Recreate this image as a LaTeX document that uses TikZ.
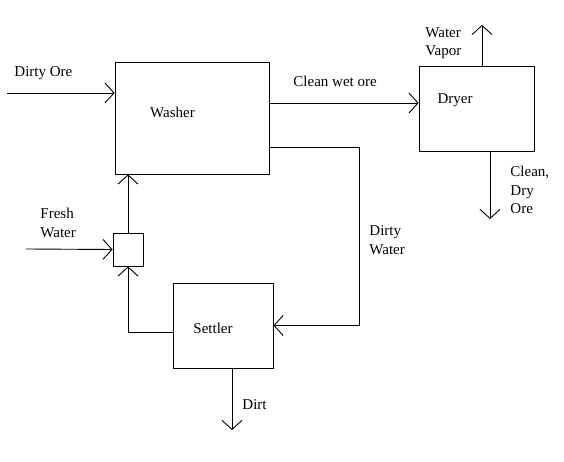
\documentclass[tikz,border=0pt]{standalone}
\usepackage{fontspec}
\setmainfont{Liberation Serif}
\usetikzlibrary{positioning, arrows.meta}

\begin{document}
\begin{tikzpicture}[
          x=1pt, y=-1pt,
          line width=0.9pt,
          unit/.style = {draw, minimum width=#1, inner sep=0pt},
          flow/.style = {-{Straight Barb[length=9pt, width=20pt, line width=0.9pt]}},
          note/.style = {font=\fontsize{15}{18.5}\selectfont, align=left, anchor=west, inner sep=0pt}
         ]
        \useasboundingbox (0,0) rectangle (564,462);

        % Units
        \node[unit=154pt, minimum height=112pt, label={[note, anchor=center, xshift=-19.5pt, yshift=6pt]center:Washer}] (washer) at (192,118) {};
        \node[unit=115pt, minimum height=85pt, label={[note, anchor=center, xshift=-21.5pt, yshift=8.5pt]center:Dryer}] (dryer) at (476.5,108.5) {};
        \node[unit=100pt, minimum height=85pt, label={[note, anchor=center, xshift=-10pt, yshift=-2.5pt]center:Settler}] (settler) at (223,325.5) {};
        \node[unit=30pt, minimum height=33pt] (mixer) at (128,249.5) {};

        % Ends of the streams
        \coordinate (orein) at (7,93);
        \coordinate (waterin) at (26,249);
        \coordinate (vapor) at (482,25);
        \coordinate (product) at (490,219);
        \coordinate (dirt) at (232,430);

        % Labels
        \node[note] (oretxt) at (14,73) {Dirty Ore};
        \node[note] (wettxt) at (293,81) {Clean wet ore};
        \node[note] (vaportxt) at (425,43) {Water\\Vapor};
        \node[note] (producttxt) at (510,190) {Clean,\\Dry\\Ore};
        \node[note] (dirtywtxt) at (369,240) {Dirty\\Water};
        \node[note] (freshtxt) at (40,223) {Fresh\\Water};
        \node[note] (dirttxt) at (242,405) {Dirt};

        % Streams
        \draw[flow] (orein) -- (orein -| washer.west);
        \draw[flow] (washer.east |- 0,103) -- (dryer.west |- 0,103);
        \draw[flow] (dryer.north -| vapor) -- (vapor);
        \draw[flow] (dryer.south -| product) -- (product);
        \draw[flow] (washer.east |- 0,147) -- (359,147) |- (settler.east);
        \draw[flow] (settler.west |- 0,332) -| (mixer.south);
        \draw[flow] (waterin) -- (mixer.west);
        \draw[flow] (mixer.north) -- (mixer.north |- washer.south);
        \draw[flow] (settler.south -| dirt) -- (dirt);

        \end{tikzpicture}
\end{document}
